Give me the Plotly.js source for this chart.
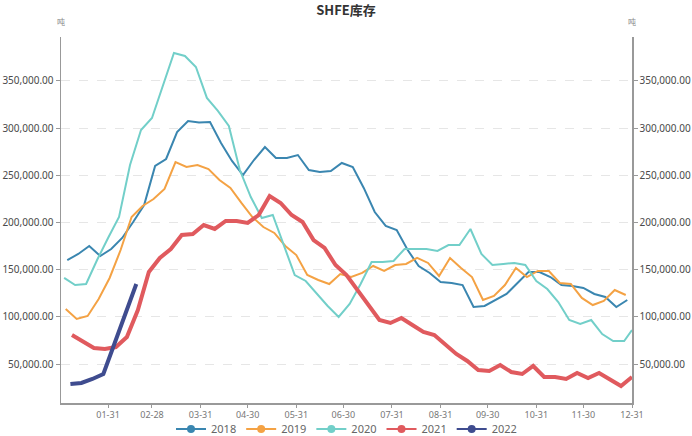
<!DOCTYPE html>
<html>
<head>
<meta charset="utf-8">
<script src="https://cdn.plot.ly/plotly-3.0.1.min.js"></script>
<style>
  html, body { margin: 0; padding: 0; background: #fff; }
  #chart { width: 692px; height: 436px; }
</style>
</head>
<body>
<div id="chart"></div>
<script>
// SHFE weekly inventory, tonnes
var years = ['2018', '2019', '2020', '2021', '2022'];
var firstDay = [5, 4, 3, 8, 7]; // January day of the first weekly report
var colors = ['#3a86b0', '#f4a244', '#72cfc9', '#e05a5e', '#3f4c8f'];
var widths = [2, 2, 2, 4, 4];

var inv2018 = [160000, 166600, 175100, 164500, 171900, 183600, 200500, 218500, 259900, 267300,
  295900, 307600, 306000, 306500, 284300, 265200, 250300, 266200, 280000, 268400,
  268400, 271500, 255600, 253500, 254600, 263100, 258800, 236600, 211100, 196300,
  192000, 170800, 153900, 146500, 136900, 135900, 133700, 110400, 111500, 117800,
  124200, 135900, 147500, 147500, 142200, 133700, 132700, 130600, 124200, 121000,
  110400, 117800];
var inv2019 = [108300, 97700, 100900, 118900, 141200, 170800, 205800, 217500, 224900, 235500,
  264100, 258800, 260900, 256700, 245000, 236600, 220700, 205800, 195200, 188900,
  175100, 165500, 144300, 139000, 134800, 145400, 142200, 146500, 153900, 148600,
  154900, 156000, 162400, 157100, 143300, 162400, 151800, 142200, 117800, 122100,
  133700, 151800, 142200, 148600, 148600, 135900, 134800, 120000, 112500, 116800,
  128400, 123100];
var inv2020 = [141200, 133700, 134800, 160200, 183600, 205800, 260900, 298000, 310800, 345700,
  379700, 376500, 364800, 332000, 318200, 302300, 255600, 227000, 204800, 208000,
  177200, 144300, 138000, 124200, 111500, 99800, 113600, 134800, 158100, 158100,
  159200, 171900, 171900, 171900, 169800, 176100, 176100, 193100, 166600, 154900,
  156000, 157100, 154900, 138000, 129500, 115700, 96600, 92400, 96600, 81800,
  74400, 74400, 86000];
var inv2021 = [80700, 73300, 67000, 65900, 68000, 78600, 107200, 147500, 162400, 171900,
  186700, 187800, 197300, 193100, 201600, 201600, 199500, 207900, 228100, 220700,
  207900, 200500, 181400, 173000, 154900, 144300, 128400, 112500, 96600, 93500,
  98800, 91300, 83900, 80700, 70100, 60600, 53200, 43600, 42600, 48900,
  41500, 39400, 47900, 36200, 36200, 34100, 40500, 35200, 40500, 33000,
  26700, 36200];
var inv2022 = [28800, 29900, 34100, 39400, 71200, 104100, 134800];

var series = [inv2018, inv2019, inv2020, inv2021, inv2022];

var tickDates = ['2021-01-31', '2021-02-28', '2021-03-31', '2021-04-30', '2021-05-31', '2021-06-30',
  '2021-07-31', '2021-08-31', '2021-09-30', '2021-10-31', '2021-11-30', '2021-12-31'];
var tickLabels = ['01-31', '02-28', '03-31', '04-30', '05-31', '06-30',
  '07-31', '08-31', '09-30', '10-31', '11-30', '12-31'];

// weekly report dates mapped onto one display year
function weekDates(day0, n) {
  var out = [];
  for (var i = 0; i < n; i++) {
    var d = Math.min(day0 - 1 + 7 * i, 364);
    var dt = new Date(Date.UTC(2021, 0, 1 + d));
    out.push(dt.toISOString().slice(0, 10));
  }
  return out;
}

var data = [];
for (var k = 0; k < years.length; k++) {
  data.push({
    x: weekDates(firstDay[k], series[k].length),
    y: series[k],
    name: years[k],
    type: 'scatter',
    mode: 'lines',
    line: { color: colors[k], width: widths[k] },
    showlegend: false,
    hoverinfo: 'x+y'
  });
}
// legend entries (line + dot)
for (var k = 0; k < years.length; k++) {
  data.push({
    x: [null],
    y: [null],
    name: years[k],
    type: 'scatter',
    mode: 'lines+markers',
    yaxis: 'y2',
    line: { color: colors[k], width: 2 },
    marker: { color: colors[k], size: 8 }
  });
}

var yRange = [8660, 396600];
var yTicks = [50000, 100000, 150000, 200000, 250000, 300000, 350000];

var yCommon = {
  range: yRange,
  tickvals: yTicks,
  tickformat: ',.2f',
  showline: true,
  linecolor: '#999',
  linewidth: 1.5,
  ticks: 'outside',
  ticklen: 4,
  tickcolor: '#999',
  tickfont: { family: 'Noto Sans, sans-serif', size: 10, color: '#4a4a4a' },
  zeroline: false,
  fixedrange: true
};

var layout = {
  width: 692,
  height: 436,
  margin: { l: 61, r: 60, t: 37, b: 33, autoexpand: false },
  paper_bgcolor: '#fff',
  plot_bgcolor: '#fff',
  font: { family: 'Noto Sans, Noto Sans CJK SC, sans-serif', color: '#555' },
  title: {
    text: '<b>SHFE库存</b>',
    x: 0.5,
    xanchor: 'center',
    yref: 'container',
    y: 0.977,
    yanchor: 'middle',
    font: { family: 'Noto Sans CJK SC, sans-serif', size: 13, color: '#333' }
  },
  xaxis: {
    type: 'date',
    range: ['2021-01-01', '2021-12-31'],
    tickvals: tickDates,
    ticktext: tickLabels,
    showgrid: false,
    showline: true,
    linecolor: '#999',
    linewidth: 1.5,
    ticks: 'outside',
    ticklen: 3,
    tickcolor: '#999',
    tickfont: { family: 'Noto Sans, sans-serif', size: 9, color: '#777' },
    zeroline: false,
    fixedrange: true
  },
  yaxis: Object.assign({}, yCommon, {
    side: 'left',
    showgrid: true,
    gridcolor: '#e6e6e6',
    griddash: 'dash',
    gridwidth: 1
  }),
  yaxis2: Object.assign({}, yCommon, {
    side: 'right',
    overlaying: 'y',
    showgrid: false
  }),
  legend: {
    orientation: 'h',
    x: 0.5,
    xanchor: 'center',
    y: -0.071,
    yanchor: 'middle',
    font: { family: 'Noto Sans, sans-serif', size: 11, color: '#666' },
    bgcolor: 'rgba(0,0,0,0)'
  },
  annotations: [
    { text: '吨', xref: 'paper', yref: 'paper', x: 0, y: 1.041, showarrow: false,
      xanchor: 'center', yanchor: 'middle', font: { family: 'Noto Sans CJK SC, sans-serif', size: 8, color: '#888' } },
    { text: '吨', xref: 'paper', yref: 'paper', x: 1, y: 1.041, showarrow: false,
      xanchor: 'center', yanchor: 'middle', font: { family: 'Noto Sans CJK SC, sans-serif', size: 8, color: '#888' } }
  ],
  showlegend: true
};

Plotly.newPlot('chart', data, layout, { displayModeBar: false, staticPlot: true });
</script>
</body>
</html>
